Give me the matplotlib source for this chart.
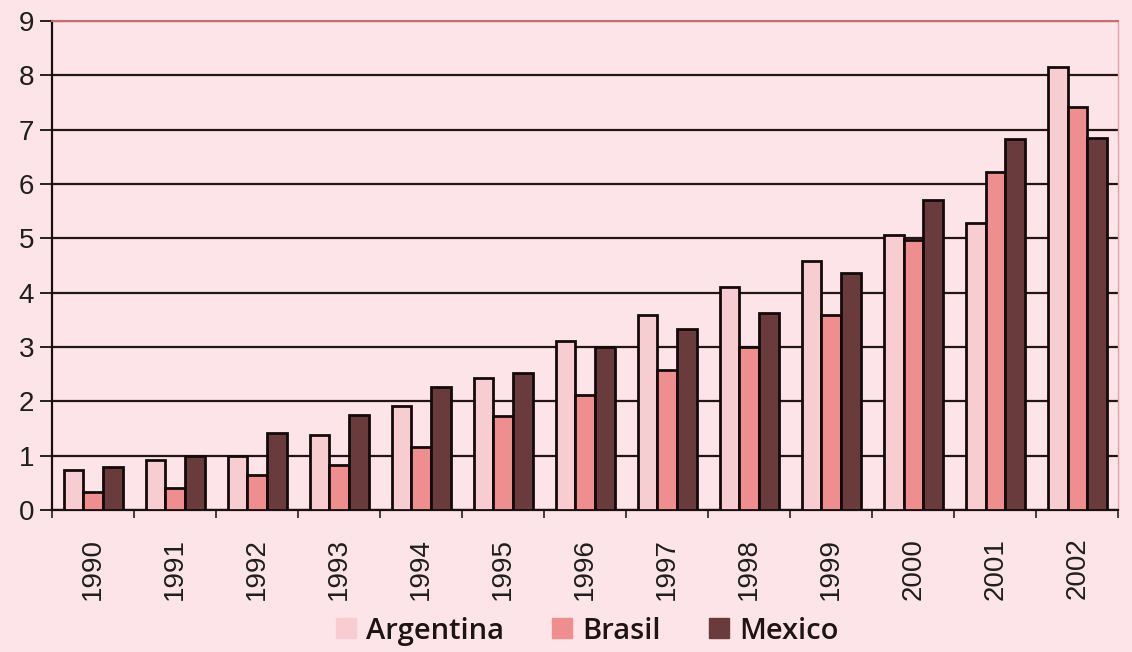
import matplotlib.pyplot as plt
import numpy as np

years = ['1990', '1991', '1992', '1993', '1994', '1995', '1996',
         '1997', '1998', '1999', '2000', '2001', '2002']
argentina = [0.74, 0.91, 1.0, 1.38, 1.91, 2.43, 3.1, 3.59, 4.1, 4.58, 5.05, 5.28, 8.15]
brasil = [0.32, 0.41, 0.64, 0.83, 1.16, 1.73, 2.11, 2.58, 3.0, 3.59, 4.96, 6.22, 7.42]
mexico = [0.79, 1.0, 1.42, 1.74, 2.26, 2.52, 3.0, 3.32, 3.62, 4.36, 5.7, 6.82, 6.84]

series = [('Argentina', argentina, '#f8cdd2'),
          ('Brasil', brasil, '#ee8e8e'),
          ('Mexico', mexico, '#6a3b3d')]

bg = '#fde4e8'
plt.rcParams['font.family'] = ['Liberation Sans', 'DejaVu Sans']

fig = plt.figure(figsize=(11.32, 6.52), dpi=100, facecolor=bg)
ax = fig.add_axes([0.046, 0.218, 0.942, 0.750], facecolor=bg)

x = np.arange(len(years))
w = 0.24
for i, (name, vals, col) in enumerate(series):
    ax.bar(x + (i - 1) * w, vals, w, color=col, edgecolor='#140a0a',
           linewidth=2.0, label=name, zorder=3)

ax.set_xlim(-0.5, len(years) - 0.5)
ax.set_ylim(0, 9)
ax.set_yticks(range(0, 10))
ax.yaxis.grid(True, color='#241616', linewidth=1.6, zorder=0)
ax.set_axisbelow(True)

ax.set_xticks(x)
ax.set_xticklabels(years, rotation=90, fontsize=20, color='#1e1e1e')
ax.tick_params(axis='x', which='major', length=0, pad=20)
ax.set_xticks(np.arange(-0.5, len(years)), minor=True)
ax.tick_params(axis='x', which='minor', length=6, width=1.2, color='#222222',
               direction='out')
ax.tick_params(axis='y', length=9, width=1.4, color='#222222',
               labelsize=20, labelcolor='#1e1e1e', pad=4)

for side in ['left', 'bottom']:
    ax.spines[side].set_color('#1a1010')
    ax.spines[side].set_linewidth(1.6)
ax.spines['top'].set_color('#d46a74')
ax.spines['top'].set_linewidth(1.4)
ax.spines['right'].set_color('#e8a0a8')
ax.spines['right'].set_linewidth(1.0)

# legend row under the year labels
handles = [plt.Rectangle((0, 0), 1, 1, color=c) for _, _, c in series]
leg = fig.legend(handles, [n for n, _, _ in series], loc='center',
                 bbox_to_anchor=(0.519, 0.032), ncol=3, frameon=False,
                 handlelength=0.68, handleheight=0.68, handletextpad=0.35,
                 columnspacing=1.65,
                 prop={'family': 'Open Sans', 'weight': 600, 'size': 21})
for t in leg.get_texts():
    t.set_color('#1e1414')

fig.savefig('out.png', dpi=100, facecolor=bg)
